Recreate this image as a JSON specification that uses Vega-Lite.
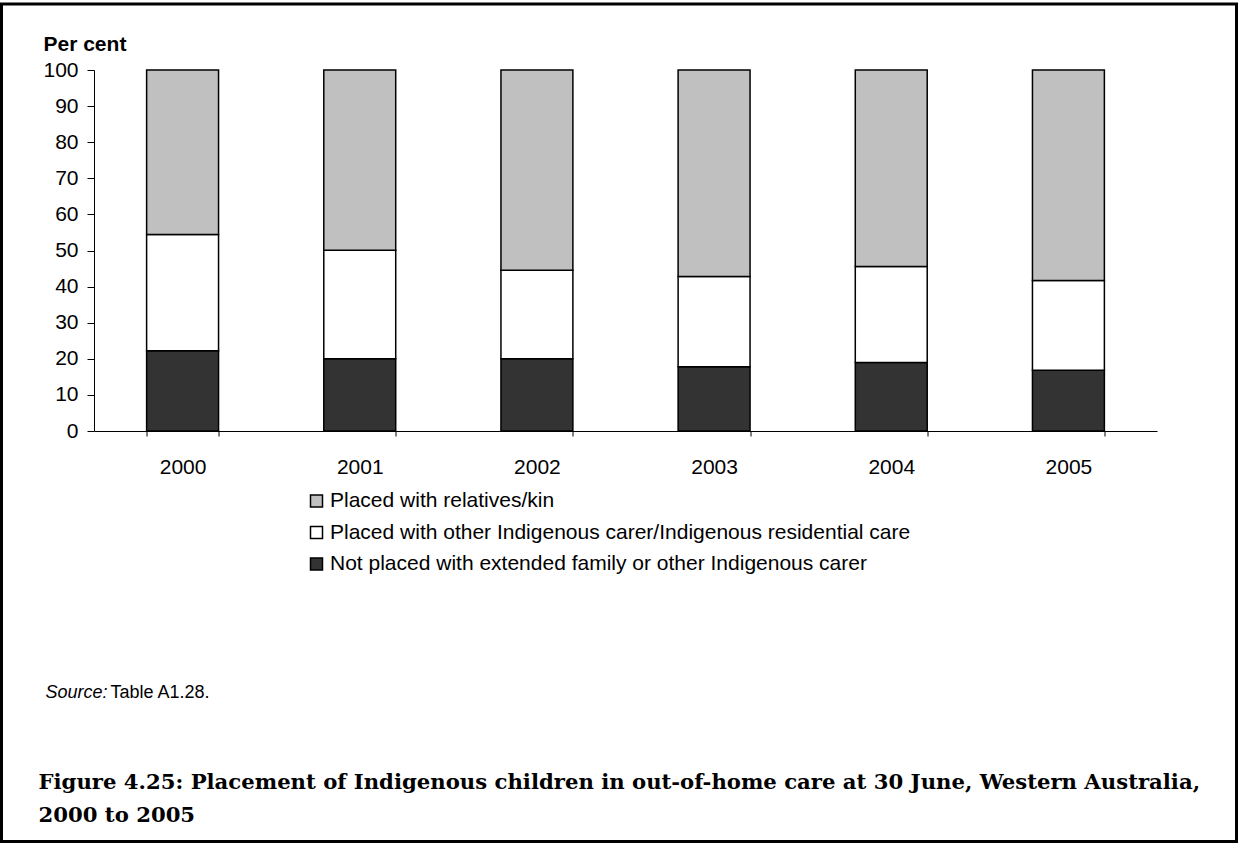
{
  "$schema": "https://vega.github.io/schema/vega-lite/v6.json",
  "width": 1235,
  "height": 837.5,
  "autosize": {"type": "none"},
  "padding": {"left": 1.5, "top": 4, "right": 1.5, "bottom": 2.5},
  "background": "white",
  "config": {
    "view": {"stroke": "black", "strokeWidth": 3},
    "font": "Liberation Sans"
  },
  "title": {
    "text": ["Figure 4.25: Placement of Indigenous children in out-of-home care at 30 June, Western Australia,", "2000 to 2005"],
    "orient": "bottom",
    "anchor": "start",
    "frame": "group",
    "offset": -52.5,
    "dx": 37,
    "baseline": "alphabetic",
    "lineHeight": 33,
    "font": "DejaVu Serif",
    "fontSize": 21.2,
    "fontWeight": "bold",
    "color": "black"
  },
  "data": {
    "values": [
      {"year": "2000", "category": "Not placed with extended family or other Indigenous carer", "value": 22.2, "ord": 1},
      {"year": "2000", "category": "Placed with other Indigenous carer/Indigenous residential care", "value": 32.2, "ord": 2},
      {"year": "2000", "category": "Placed with relatives/kin", "value": 45.6, "ord": 3},
      {"year": "2001", "category": "Not placed with extended family or other Indigenous carer", "value": 20.0, "ord": 1},
      {"year": "2001", "category": "Placed with other Indigenous carer/Indigenous residential care", "value": 30.1, "ord": 2},
      {"year": "2001", "category": "Placed with relatives/kin", "value": 49.9, "ord": 3},
      {"year": "2002", "category": "Not placed with extended family or other Indigenous carer", "value": 20.0, "ord": 1},
      {"year": "2002", "category": "Placed with other Indigenous carer/Indigenous residential care", "value": 24.5, "ord": 2},
      {"year": "2002", "category": "Placed with relatives/kin", "value": 55.5, "ord": 3},
      {"year": "2003", "category": "Not placed with extended family or other Indigenous carer", "value": 17.8, "ord": 1},
      {"year": "2003", "category": "Placed with other Indigenous carer/Indigenous residential care", "value": 25.0, "ord": 2},
      {"year": "2003", "category": "Placed with relatives/kin", "value": 57.2, "ord": 3},
      {"year": "2004", "category": "Not placed with extended family or other Indigenous carer", "value": 19.0, "ord": 1},
      {"year": "2004", "category": "Placed with other Indigenous carer/Indigenous residential care", "value": 26.6, "ord": 2},
      {"year": "2004", "category": "Placed with relatives/kin", "value": 54.4, "ord": 3},
      {"year": "2005", "category": "Not placed with extended family or other Indigenous carer", "value": 16.8, "ord": 1},
      {"year": "2005", "category": "Placed with other Indigenous carer/Indigenous residential care", "value": 24.9, "ord": 2},
      {"year": "2005", "category": "Placed with relatives/kin", "value": 58.3, "ord": 3}
    ]
  },
  "resolve": {"axis": {"x": "independent", "y": "independent"}},
  "layer": [
    {
      "mark": {"type": "bar", "stroke": "black", "strokeWidth": 1.5},
      "encoding": {
        "x": {
          "field": "year",
          "type": "ordinal",
          "scale": {"range": [92.5, 1155.5], "paddingInner": 0.594, "paddingOuter": 0.297},
          "axis": {
            "orient": "bottom",
            "offset": -410.5,
            "tickBand": "extent",
            "labelAngle": 0,
            "labelFont": "Liberation Sans",
            "labelFontSize": 21,
            "labelColor": "black",
            "labelBaseline": "alphabetic",
            "labelPadding": 37,
            "tickSize": 5,
            "tickColor": "black",
            "domainColor": "black",
            "title": "Table A1.28.",
            "titleFont": "Liberation Sans",
            "titleFontSize": 18,
            "titleFontWeight": "normal",
            "titleColor": "black",
            "titleX": 108.5,
            "titleY": 266,
            "titleAlign": "left",
            "titleAnchor": "start",
            "titleBaseline": "alphabetic"
          }
        },
        "y": {
          "field": "value",
          "type": "quantitative",
          "stack": "zero",
          "scale": {"domain": [0, 100], "range": [427, 66], "nice": false, "zero": true},
          "axis": {
            "orient": "left",
            "offset": -92.5,
            "values": [0, 10, 20, 30, 40, 50, 60, 70, 80, 90, 100],
            "grid": false,
            "labelFont": "Liberation Sans",
            "labelFontSize": 21,
            "labelColor": "black",
            "labelPadding": 9,
            "tickSize": 7,
            "tickColor": "black",
            "domainColor": "black",
            "title": "Per cent",
            "titleFont": "Liberation Sans",
            "titleFontSize": 21,
            "titleFontWeight": "bold",
            "titleColor": "black",
            "titleAngle": 0,
            "titleX": -51,
            "titleY": 46.7,
            "titleAlign": "left",
            "titleAnchor": "start",
            "titleBaseline": "alphabetic"
          }
        },
        "color": {
          "field": "category",
          "type": "nominal",
          "scale": {
            "domain": ["Placed with relatives/kin", "Placed with other Indigenous carer/Indigenous residential care", "Not placed with extended family or other Indigenous carer"],
            "range": ["#C0C0C0", "#FFFFFF", "#333333"]
          },
          "legend": {
            "orient": "none",
            "legendX": 304.5,
            "legendY": 486.5,
            "title": null,
            "padding": 0,
            "symbolType": "square",
            "symbolSize": 144,
            "symbolStrokeColor": "black",
            "symbolStrokeWidth": 1.5,
            "symbolOpacity": 1,
            "labelFont": "Liberation Sans",
            "labelFontSize": 21,
            "labelColor": "black",
            "labelOffset": 3,
            "labelLimit": 0,
            "rowPadding": 9.5
          }
        },
        "order": {"field": "ord", "type": "quantitative"}
      }
    },
    {
      "mark": {"type": "bar", "opacity": 0},
      "encoding": {
        "x": {
          "field": "year",
          "type": "ordinal",
          "axis": {
            "orient": "top",
            "offset": 0,
            "labels": false,
            "ticks": false,
            "domain": false,
            "title": "Source:",
            "titleFont": "Liberation Sans",
            "titleFontSize": 18,
            "titleFontWeight": "normal",
            "titleFontStyle": "italic",
            "titleColor": "black",
            "titleX": 43.5,
            "titleY": 693,
            "titleAlign": "left",
            "titleAnchor": "start",
            "titleBaseline": "alphabetic"
          }
        },
        "y": {"field": "value", "type": "quantitative", "stack": "zero", "axis": null}
      }
    }
  ]
}
